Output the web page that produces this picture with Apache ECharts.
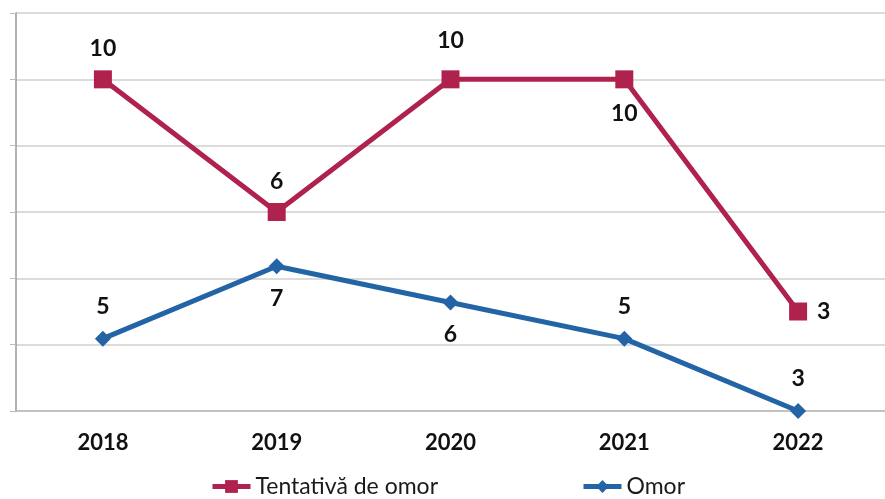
<!DOCTYPE html>
<html>
<head>
<meta charset="utf-8">
<script src="https://cdn.jsdelivr.net/npm/echarts@6/dist/echarts.min.js"></script>
<style>
    html, body { margin: 0; padding: 0; background: #fff; }
    #chart { width: 885px; height: 499px; }
</style>
</head>
<body>
<div id="chart"></div>
<script>
    var years = ['2018', '2019', '2020', '2021', '2022'];
    var tentativa = [10, 6, 10, 10, 3];
    var omor = [5, 7, 6, 5, 3];
    var tentativaPos = ['top', 'top', 'top', 'bottom', 'right'];
    var omorPos = ['top', 'bottom', 'bottom', 'top', 'top'];

    var red = '#b0224e', blue = '#2364a6';
    var labelFont = { color: '#111', fontFamily: 'Lato', fontWeight: 'bold', fontSize: 23 };

    function points(values, positions, extra) {
        return values.map(function (v, i) {
            var lab = { position: positions[i] };
            if (extra && extra[i]) lab.distance = extra[i];
            return { value: v, label: lab };
        });
    }

    var option = {
        animation: false,
        grid: { left: 16, right: 0, top: 13, bottom: 88 },
        legend: {
            top: 470,
            left: 205,
            itemGap: 143,
            itemWidth: 38,
            itemHeight: 16,
            lineStyle: { width: 5 },
            textStyle: { fontFamily: 'Lato', fontSize: 23, color: '#1a1a1a' },
            data: ['Tentativă de omor', 'Omor']
        },
        xAxis: {
            type: 'category',
            data: years,
            axisLine: { lineStyle: { color: '#bbb', width: 1.5 } },
            axisTick: { length: 8, lineStyle: { color: '#bbb' } },
            axisLabel: { margin: 21, color: '#111', fontFamily: 'Lato', fontWeight: 'bold', fontSize: 22 }
        },
        yAxis: [
            {
                type: 'value', min: 0, max: 12, interval: 2,
                axisLine: { show: true, lineStyle: { color: '#999', width: 1.5 } },
                axisTick: { show: true, inside: false, length: 6, lineStyle: { color: '#bbb' } },
                axisLabel: { show: false },
                splitLine: { lineStyle: { color: '#cfcfcf', width: 1.5 } }
            },
            {
                type: 'value', min: 3, max: 14,
                show: false,
                splitLine: { show: false }
            }
        ],
        series: [
            {
                name: 'Tentativă de omor',
                type: 'line',
                yAxisIndex: 0,
                data: points(tentativa, tentativaPos, [0, 0, 18, 14, 0]),
                symbol: 'rect',
                symbolSize: 18,
                color: red,
                lineStyle: { width: 5, color: red },
                label: { show: true, distance: 10, ...labelFont }
            },
            {
                name: 'Omor',
                type: 'line',
                yAxisIndex: 1,
                data: points(omor, omorPos),
                symbol: 'diamond',
                symbolSize: 16,
                color: blue,
                lineStyle: { width: 5, color: blue },
                label: { show: true, distance: 13, ...labelFont }
            }
        ]
    };

    var myChart = echarts.init(document.getElementById('chart'));
    myChart.setOption(option);
</script>
</body>
</html>
